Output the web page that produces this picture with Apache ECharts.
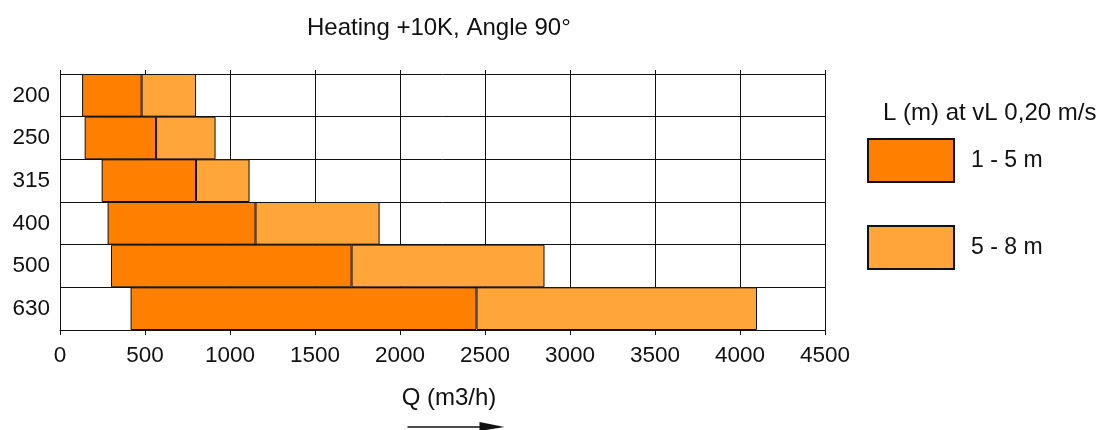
<!DOCTYPE html>
<html>
<head>
<meta charset="utf-8">
<script src="https://cdn.jsdelivr.net/npm/echarts@6/dist/echarts.min.js"></script>
<style>
  html, body { margin: 0; padding: 0; background: #fff; }
  #chart { width: 1098px; height: 430px; }
</style>
</head>
<body>
<div id="chart"></div>
<script>
// duct sizes, top to bottom
var sizes = ['200', '250', '315', '400', '500', '630'];
// Q (m3/h) where each band starts / switches / ends
var qStart = [130, 145, 245, 280, 300, 415];
var qMid   = [480, 565, 800, 1150, 1715, 2450];
var qEnd   = [800, 915, 1115, 1880, 2850, 4100];
var xTicks = [0, 500, 1000, 1500, 2000, 2500, 3000, 3500, 4000, 4500];

var FONT = '"Liberation Sans", Arial, sans-serif';

var chart = echarts.init(document.getElementById('chart'));

// stack pieces: invisible offset, then the two bands
var band1 = [], band2 = [];
for (var i = 0; i < sizes.length; i++) {
  band1.push(qMid[i] - qStart[i]);
  band2.push(qEnd[i] - qMid[i]);
}

var option = {
  animation: false,
  title: [{
    text: 'Heating +10K, Angle 90°',
    left: 307,
    top: 16,
    padding: 0,
    textStyle: { fontFamily: FONT, fontSize: 24, fontWeight: 'normal', color: '#111' }
  }, {
    text: 'L (m) at vL 0,20 m/s',
    left: 883,
    top: 101,
    padding: 0,
    textStyle: { fontFamily: FONT, fontSize: 24, fontWeight: 'normal', color: '#111' }
  }],
  legend: {
    orient: 'vertical',
    left: 867,
    top: 138,
    padding: 0,
    itemWidth: 86,
    itemHeight: 43,
    itemGap: 42,
    icon: 'rect',
    data: ['1 - 5 m', '5 - 8 m'],
    textStyle: { fontFamily: FONT, fontSize: 23, color: '#111', padding: [2, 0, 0, 12] }
  },
  grid: { left: 60, right: 273, top: 74, bottom: 100 },
  xAxis: [{
    type: 'value',
    min: 0,
    max: 4500,
    interval: 500,
    name: 'Q (m3/h)',
    nameLocation: 'middle',
    nameGap: 56,
    nameTextStyle: { fontFamily: FONT, fontSize: 24, color: '#111', padding: [0, 0, 0, 13] },
    axisLine: { show: true, lineStyle: { color: '#111', width: 1 } },
    axisTick: { show: true, length: 5, lineStyle: { color: '#111' } },
    axisLabel: {
      fontFamily: FONT, fontSize: 22.5, color: '#111', margin: 14,
      formatter: function (v) { return xTicks.indexOf(v) >= 0 ? String(v) : ''; }
    },
    splitLine: { show: true, lineStyle: { color: '#111', width: 1 } }
  }, {
    // only for the little ticks poking above the plot
    type: 'value',
    position: 'top',
    min: 0,
    max: 4500,
    interval: 500,
    axisLine: { show: false },
    axisTick: { show: true, length: 4, lineStyle: { color: '#111' } },
    axisLabel: { show: false },
    splitLine: { show: false }
  }],
  yAxis: {
    type: 'category',
    inverse: true,
    data: sizes,
    axisLine: { show: true, lineStyle: { color: '#111', width: 1 } },
    axisTick: { show: false },
    axisLabel: { fontFamily: FONT, fontSize: 22.5, color: '#111', margin: 10, padding: [3, 0, 0, 0] },
    splitLine: { show: true, lineStyle: { color: '#111', width: 1 } }
  },
  series: [{
    name: 'offset',
    type: 'bar',
    stack: 'q',
    barWidth: '100%',
    silent: true,
    itemStyle: { color: 'transparent', borderWidth: 0 },
    data: qStart
  }, {
    name: '1 - 5 m',
    type: 'bar',
    stack: 'q',
    barWidth: '100%',
    itemStyle: { color: '#ff8000', borderColor: '#111', borderWidth: 1 },
    data: band1
  }, {
    name: '5 - 8 m',
    type: 'bar',
    stack: 'q',
    barWidth: '100%',
    itemStyle: { color: '#ffa53a', borderColor: '#111', borderWidth: 1 },
    data: band2
  }],
  graphic: [{
    type: 'group',
    left: 405,
    top: 422,
    children: [{
      type: 'line',
      shape: { x1: 0, y1: 5, x2: 76, y2: 5 },
      style: { stroke: '#111', lineWidth: 1.5 }
    }, {
      type: 'polygon',
      shape: { points: [[72, 0], [97, 5], [72, 9]] },
      style: { fill: '#111' }
    }]
  }]
};

chart.setOption(option);
</script>
</body>
</html>
